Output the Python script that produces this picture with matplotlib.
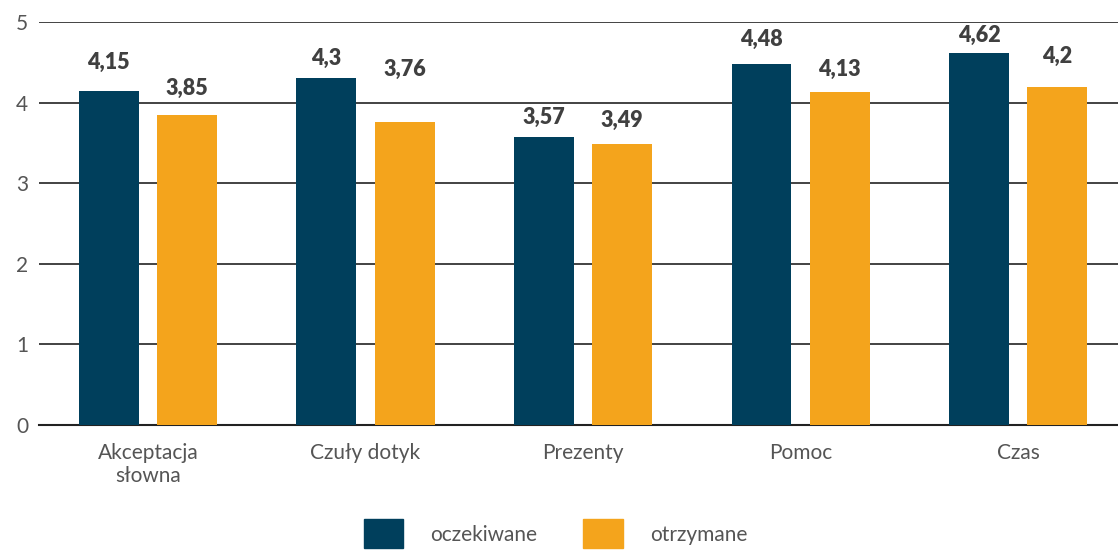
import matplotlib.pyplot as plt
import numpy as np
from matplotlib.patches import Patch

plt.rcParams['font.family'] = ['Lato', 'DejaVu Sans']

kategorie = ['Akceptacja\nsłowna', 'Czuły dotyk', 'Prezenty', 'Pomoc', 'Czas']
oczekiwane = [4.15, 4.3, 3.57, 4.48, 4.62]
otrzymane = [3.85, 3.76, 3.49, 4.13, 4.2]
etykiety_oczek = ['4,15', '4,3', '3,57', '4,48', '4,62']
etykiety_otrz = ['3,85', '3,76', '3,49', '4,13', '4,2']
# odstęp etykiety od słupka (pt) - w oryginale ustawiane ręcznie
odstep_oczek = [15.8, 10.1, 9.4, 13.0, 7.9]
odstep_otrz = [14.4, 33.1, 12.2, 11.5, 17.3]

granat = '#003f5c'
pomarancz = '#f4a41c'

fig = plt.figure(figsize=(11.18, 5.52), dpi=100)
ax = fig.add_axes([0.035, 0.23, 0.973, 0.73])

x = np.arange(len(kategorie))
w = 0.275
b1 = ax.bar(x - 0.18, oczekiwane, w, color=granat, zorder=3)
b2 = ax.bar(x + 0.18, otrzymane, w, color=pomarancz, zorder=3)

for bars, labs, offs in ((b1, etykiety_oczek, odstep_oczek), (b2, etykiety_otrz, odstep_otrz)):
    for r, t, o in zip(bars, labs, offs):
        ax.annotate(t, (r.get_x() + r.get_width() / 2, r.get_height()),
                    xytext=(0, o), textcoords='offset points',
                    ha='center', va='baseline', fontsize=15.5, fontweight='heavy',
                    color='#404040')

ax.set_xlim(-0.5, 4.5)
ax.set_ylim(0, 5)
ax.set_yticks([0, 1, 2, 3, 4, 5])
ax.yaxis.grid(True, color='#222222', linewidth=1.2, zorder=0)
ax.set_axisbelow(True)
for s in ['left', 'right', 'top']:
    ax.spines[s].set_visible(False)
ax.spines['bottom'].set_color('#222222')
ax.spines['bottom'].set_linewidth(1.5)
ax.tick_params(axis='y', length=0, labelsize=15, labelcolor='#555555', pad=8)
ax.tick_params(axis='x', length=0, labelsize=15, labelcolor='#555555', pad=13)
ax.set_xticks(x)
ax.set_xticklabels(kategorie)

handles = [Patch(color=granat, label='oczekiwane'), Patch(color=pomarancz, label='otrzymane')]
fig.legend(handles=handles, loc='center', bbox_to_anchor=(0.497, 0.033), ncol=2,
           frameon=False, fontsize=15, handlelength=1.9, handleheight=1.75,
           columnspacing=2.2, handletextpad=1.3, labelcolor='#555555',
           borderpad=0, borderaxespad=0)

fig.savefig('out.png', dpi=100)
